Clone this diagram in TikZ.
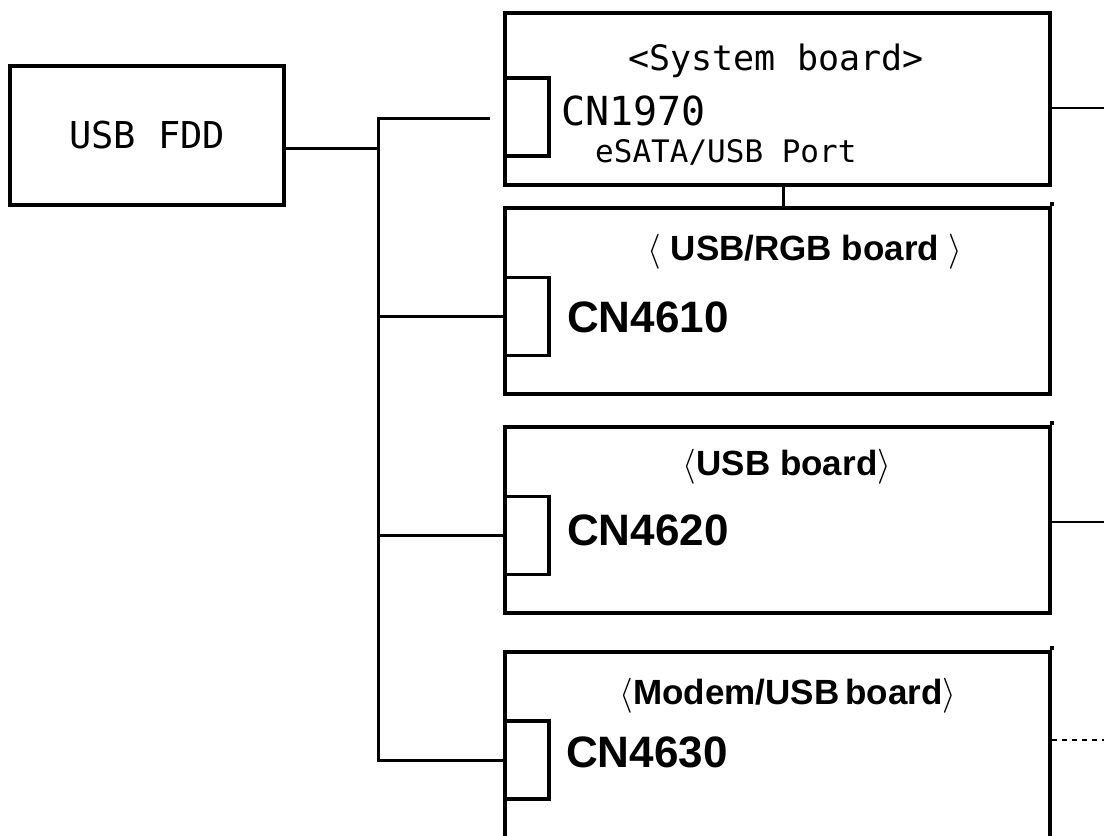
\RequirePackage{fix-cm}
\documentclass[tikz,border=0pt]{standalone}
\usepackage{fontspec}
\newfontfamily\gothic{DejaVu Sans Mono}
\newfontfamily\arial{Liberation Sans}
\begin{document}
\begin{tikzpicture}[x=1pt,y=-1pt,
    board/.style={draw,line width=3.5pt,inner sep=0pt,minimum width=545pt},
    plug/.style={draw,line width=3.5pt,inner sep=0pt,minimum width=44pt,minimum height=78pt},
    lbl/.style={inner sep=0pt},
    wire/.style={line width=3pt},
    outwire/.style={line width=2.4pt},
    title/.style={lbl,anchor=base,font=\arial\bfseries\fontsize{35}{40}\selectfont},
    cnbig/.style={lbl,anchor=base west,font=\arial\bfseries\fontsize{44}{50}\selectfont}]
    \clip (0,0) rectangle (1104,836);

    % Left: USB FDD
    \node[draw,line width=3.5pt,inner sep=0pt,minimum width=274pt,minimum height=139pt,
          font=\gothic\fontsize{37}{40}\selectfont] (fdd) at (147,135.5) {USB FDD};

    % System board
    \node[board,minimum height=172pt] (sys) at (777.5,99) {};
    \node[plug] (cnsys) at (527,117) {};
    \node[lbl,anchor=base,font=\gothic\fontsize{35}{40}\selectfont] (systitle) at (776,70) {<System board>};
    \node[lbl,anchor=base west,font=\gothic\fontsize{40}{44}\selectfont] (cn1970) at (561,125) {CN1970};
    \node[lbl,anchor=base west,font=\gothic\fontsize{31}{34}\selectfont] (port) at (595,162) {eSATA/USB Port};

    % USB/RGB board
    \node[board,minimum height=186pt] (rgb) at (777.5,301) {};
    \node[plug] (cnrgb) at (527,316.5) {};
    \node[title] (rgbtitle) at (805,260) {$\langle$\ USB/RGB board\ $\rangle$};
    \node[cnbig] (cn4610) at (567,332) {CN4610};

    % USB board
    \node[board,minimum height=186pt] (usb) at (777.5,520) {};
    \node[plug] (cnusb) at (527,535.5) {};
    \node[title] (usbtitle) at (787,475) {$\langle$USB board$\rangle$};
    \node[cnbig] (cn4620) at (567,545) {CN4620};

    % Modem/USB board (runs off the bottom)
    \node[board,minimum height=200pt] (modem) at (777.5,752) {};
    \node[plug] (cnmodem) at (527,760) {};
    \node[title] (modemtitle) at (788,704) {$\langle$Modem/USB\,board$\rangle$};
    \node[cnbig] (cn4630) at (566,767) {CN4630};

    % right edges stand a little above the top lines
    \foreach \b in {rgb,usb,modem}
        \draw[line width=3.5pt] (\b.north east) -- ++(0,-4);

    % wiring
    \coordinate (jfdd) at (378,148);
    \coordinate (jtop) at (378,118);
    \coordinate (sysend) at (490,118);
    \draw[wire] (fdd.east |- jfdd) -- (jfdd);
    \draw[wire] (sysend) -- (jtop) -- (jtop |- cnmodem.west) -- (cnmodem.west);
    \foreach \p in {cnrgb,cnusb}
        \draw[wire] (jtop |- \p.west) -- (\p.west);
    \draw[wire] ([xshift=5.5pt]sys.south) -- ([xshift=5.5pt]rgb.north);

    % lines leaving to the right
    \coordinate (sysout) at (1104,108);
    \coordinate (usbout) at (1104,522);
    \coordinate (modemout) at (1104,740);
    \draw[outwire] (sys.east |- sysout) -- (sysout);
    \draw[outwire] (usb.east |- usbout) -- (usbout);
    \draw[outwire,dash pattern=on 5pt off 5pt] (modem.east |- modemout) -- (modemout);
\end{tikzpicture}
\end{document}
